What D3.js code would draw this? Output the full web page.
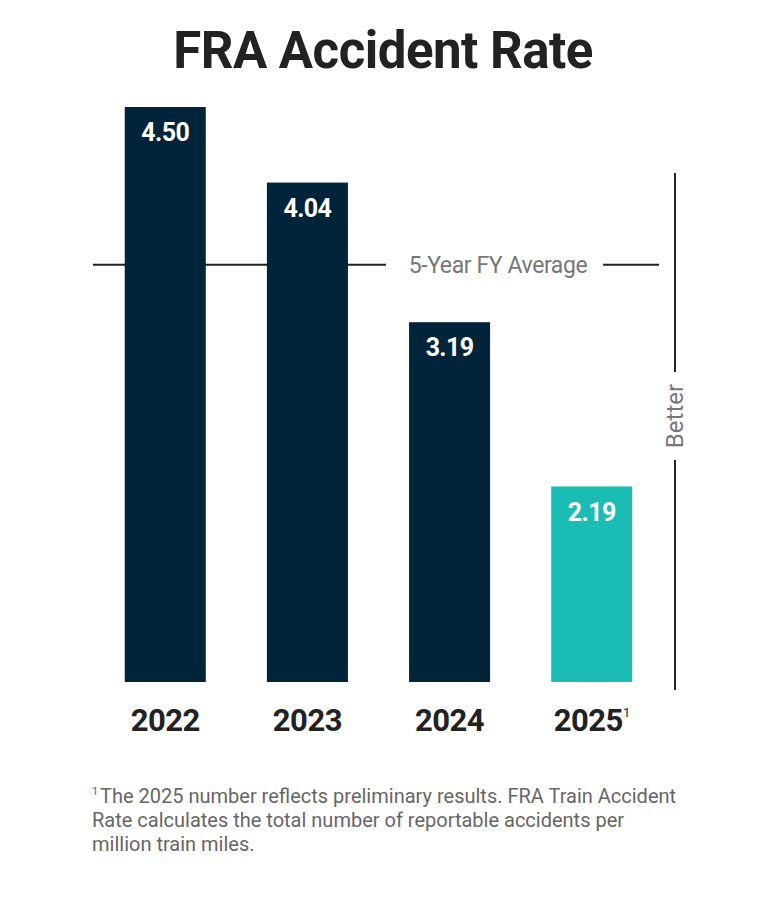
<!DOCTYPE html>
<html>
<head>
<meta charset="utf-8">
<script src="https://cdn.jsdelivr.net/npm/d3@7"></script>
<style>
	body { margin: 0; background: #fff; }
	svg { display: block; font-family: Roboto, "Noto Sans", sans-serif; }
</style>
</head>
<body>
<div id="chart"></div>
<script>
(function(){
	'use strict';

	// DATA
	var years = ['2022', '2023', '2024', '2025'];
	var rates = [4.50, 4.04, 3.19, 2.19];
	var preliminary = [false, false, false, true];
	var fiveYearAverage = 3.54;
	var footnoteLines = [
		'The 2025 number reflects preliminary results. FRA Train Accident',
		'Rate calculates the total number of reportable accidents per',
		'million train miles.'
	];

	var width = 776, height = 900;
	var colors = { bar: '#01243a', latest: '#1bbcb3', ink: '#222', gray: '#777' };

	var svg = d3.select('#chart').append('svg')
		.attr('width', width)
		.attr('height', height);

	var xScale = d3.scaleBand()
		.domain(years)
		.range([102, 655])
		.paddingInner(0.43)
		.paddingOuter(0.16);

	var yScale = d3.scaleLinear()
		.domain([1.0, 4.5])
		.range([682, 107]);

	// TITLE
	svg.append('text')
		.attr('x', 383)
		.attr('y', 68)
		.attr('text-anchor', 'middle')
		.attr('font-size', 51)
		.attr('font-weight', 700)
		.attr('fill', colors.ink)
		.attr('letter-spacing', -0.5)
		.text('FRA Accident Rate');

	// AVERAGE LINE (behind bars)
	var avgY = yScale(fiveYearAverage);
	var avgLine = svg.append('g').attr('class', 'average');
	avgLine.append('line')
		.attr('x1', 93).attr('x2', 386)
		.attr('y1', avgY).attr('y2', avgY)
		.attr('stroke', colors.ink).attr('stroke-width', 2);
	avgLine.append('line')
		.attr('x1', 603).attr('x2', 659)
		.attr('y1', avgY).attr('y2', avgY)
		.attr('stroke', colors.ink).attr('stroke-width', 2);
	avgLine.append('text')
		.attr('x', 498)
		.attr('y', avgY + 8)
		.attr('text-anchor', 'middle')
		.attr('font-size', 23)
		.attr('fill', colors.gray)
		.attr('letter-spacing', -0.4)
		.text('5-Year FY Average');

	// BARS
	var bar = svg.selectAll('g.bar')
		.data(years.map(function(y, i){ return { label: y, data: rates[i], prelim: preliminary[i] }; }))
		.enter().append('g')
		.attr('class', 'bar');

	bar.append('rect')
		.attr('x', function(d){ return xScale(d.label); })
		.attr('y', function(d){ return yScale(d.data); })
		.attr('width', xScale.bandwidth())
		.attr('height', function(d){ return yScale(1.0) - yScale(d.data); })
		.attr('fill', function(d){ return d.prelim ? colors.latest : colors.bar; });

	bar.append('text')
		.attr('x', function(d){ return xScale(d.label) + xScale.bandwidth() / 2; })
		.attr('y', function(d){ return yScale(d.data) + 34; })
		.attr('text-anchor', 'middle')
		.attr('font-size', 25)
		.attr('font-weight', 700)
		.attr('fill', '#fff')
		.attr('letter-spacing', -0.6)
		.text(function(d){ return d.data.toFixed(2); });

	var yearLabel = bar.append('text')
		.attr('x', function(d){ return xScale(d.label) + xScale.bandwidth() / 2; })
		.attr('y', 731)
		.attr('text-anchor', 'middle')
		.attr('font-size', 31)
		.attr('font-weight', 700)
		.attr('fill', colors.ink)
		.attr('letter-spacing', -0.5)
		.text(function(d){ return d.label; });

	yearLabel.filter(function(d){ return d.prelim; })
		.append('tspan')
		.attr('dy', -14)
		.attr('font-size', 13)
		.attr('font-weight', 400)
		.text('1');

	// BETTER INDICATOR
	var betterX = 675;
	var better = svg.append('g').attr('class', 'better');
	better.append('line')
		.attr('x1', betterX).attr('x2', betterX)
		.attr('y1', 173).attr('y2', 372)
		.attr('stroke', colors.ink).attr('stroke-width', 2);
	better.append('line')
		.attr('x1', betterX).attr('x2', betterX)
		.attr('y1', 460).attr('y2', 690)
		.attr('stroke', colors.ink).attr('stroke-width', 2);
	better.append('text')
		.attr('transform', 'translate(' + (betterX + 8) + ',416) rotate(-90)')
		.attr('text-anchor', 'middle')
		.attr('font-size', 24)
		.attr('fill', colors.gray)
		.text('Better');

	// FOOTNOTE
	var foot = svg.append('text')
		.attr('x', 92)
		.attr('y', 803)
		.attr('font-size', 20)
		.attr('fill', '#666');
	foot.append('tspan')
		.attr('font-size', 11)
		.attr('dy', -8)
		.text('1');
	footnoteLines.forEach(function(line, i){
		foot.append('tspan')
			.attr('x', i === 0 ? 100 : 92)
			.attr('y', 803 + i * 24)
			.text(line);
	});
})();
</script>
</body>
</html>
